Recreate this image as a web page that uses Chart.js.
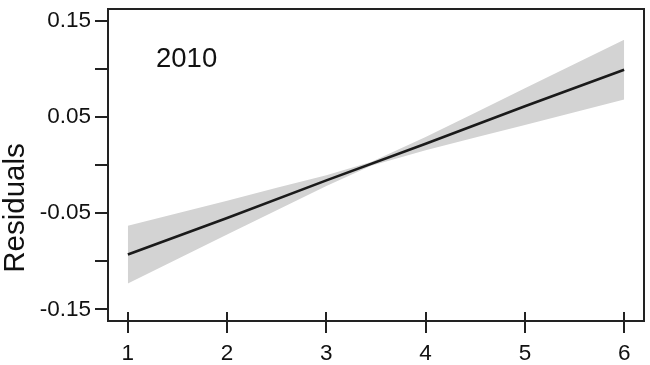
<!DOCTYPE html>
<html>
<head>
<meta charset="utf-8">
<script src="https://cdn.jsdelivr.net/npm/chart.js@4.4.1/dist/chart.umd.min.js"></script>
<style>
  html, body { margin: 0; padding: 0; background: #fff; }
  #wrap { width: 650px; height: 365px; }
</style>
</head>
<body>
<div id="wrap"><canvas id="c" width="650" height="365"></canvas></div>
<script>
// ---- data ----
const xTicks = [1, 2, 3, 4, 5, 6];
const yTicks = [-0.15, -0.10, -0.05, 0.00, 0.05, 0.10, 0.15];
const yLabelled = [-0.15, -0.05, 0.05, 0.15];
const fitX = [1, 2, 3, 4, 5, 6];
const fitY = [-0.093, -0.055, -0.016, 0.022, 0.061, 0.099];
const bandX = [1, 1.5, 2, 2.5, 3, 3.45, 4, 4.5, 5, 5.5, 6];
const bandUpper = [-0.063, -0.050, -0.037, -0.0237, -0.0107, 0.0031, 0.029, 0.0543, 0.0796, 0.1048, 0.130];
const bandLower = [-0.123, -0.0976, -0.0723, -0.0471, -0.0217, -0.0009, 0.0154, 0.0285, 0.0416, 0.0548, 0.068];
const panelLabel = '2010';
const yTitle = 'Residuals';

const FONT = "'Liberation Sans', Arial, Helvetica, sans-serif";
const INK = '#222222';

const pts = (xs, ys) => xs.map((x, i) => ({x: x, y: ys[i]}));

const frame = {
  id: 'frame',
  afterDatasetsDraw(chart) {
    const {ctx, chartArea: a, scales} = chart;
    ctx.save();
    ctx.strokeStyle = INK;
    ctx.lineWidth = 2;
    ctx.strokeRect(a.left, a.top, a.right - a.left, a.bottom - a.top);
    // inner part of x ticks (they cross the frame)
    ctx.beginPath();
    xTicks.forEach(v => {
      const px = Math.round(scales.x.getPixelForValue(v));
      ctx.moveTo(px, a.bottom);
      ctx.lineTo(px, a.bottom - 9);
    });
    ctx.stroke();
    // texts
    ctx.fillStyle = '#111';
    ctx.font = '27.5px ' + FONT;
    ctx.textAlign = 'left';
    ctx.textBaseline = 'middle';
    ctx.fillText(panelLabel, 156, 59);
    ctx.translate(16, 208);
    ctx.rotate(-Math.PI / 2);
    ctx.textAlign = 'center';
    ctx.font = '29.5px ' + FONT;
    ctx.fillText(yTitle, 0, 0);
    ctx.restore();
  }
};

new Chart(document.getElementById('c'), {
  type: 'scatter',
  data: {
    datasets: [
      {
        label: 'fit',
        data: pts(fitX, fitY),
        showLine: true,
        borderColor: '#1a1a1a',
        borderWidth: 2.6,
        pointRadius: 0,
        fill: false,
        order: 0
      },
      {
        label: 'upper',
        data: pts(bandX, bandUpper),
        showLine: true,
        borderWidth: 0,
        borderColor: 'rgba(0,0,0,0)',
        backgroundColor: '#d3d3d3',
        pointRadius: 0,
        fill: '+1',
        order: 1
      },
      {
        label: 'lower',
        data: pts(bandX, bandLower),
        showLine: true,
        borderWidth: 0,
        borderColor: 'rgba(0,0,0,0)',
        pointRadius: 0,
        fill: false,
        order: 2
      }
    ]
  },
  options: {
    responsive: false,
    animation: false,
    devicePixelRatio: 1,
    layout: { padding: { top: 9, right: 6, left: 0, bottom: 0 } },
    plugins: { legend: { display: false }, tooltip: { enabled: false } },
    scales: {
      x: {
        type: 'linear',
        min: 0.8,
        max: 6.2,
        afterBuildTicks: s => { s.ticks = xTicks.map(v => ({value: v})); },
        afterFit: s => { s.height = 44; s.paddingLeft = 0; s.paddingRight = 0; },
        grid: { drawOnChartArea: false, drawTicks: true, tickLength: 12, color: INK, lineWidth: 2 },
        border: { display: true, color: INK, width: 2 },
        ticks: {
          color: '#111',
          font: { family: FONT, size: 22.5, lineHeight: 1 },
          padding: 10,
          maxRotation: 0,
          autoSkip: false,
          callback: v => String(v)
        }
      },
      y: {
        type: 'linear',
        min: -0.162,
        max: 0.162,
        afterBuildTicks: s => { s.ticks = yTicks.map(v => ({value: v})); },
        afterFit: s => { s.width = 108; s.paddingTop = 0; s.paddingBottom = 0; },
        grid: { drawOnChartArea: false, drawTicks: true, tickLength: 13, color: INK, lineWidth: 2 },
        border: { display: true, color: INK, width: 2 },
        ticks: {
          color: '#111',
          font: { family: FONT, size: 22.5, lineHeight: 1 },
          padding: 4,
          autoSkip: false,
          callback: v => {
            const r = Math.round(v * 100) / 100;
            return yLabelled.some(l => Math.abs(l - r) < 1e-9) ? r.toFixed(2) : '';
          }
        }
      }
    }
  },
  plugins: [frame]
});
</script>
</body>
</html>
